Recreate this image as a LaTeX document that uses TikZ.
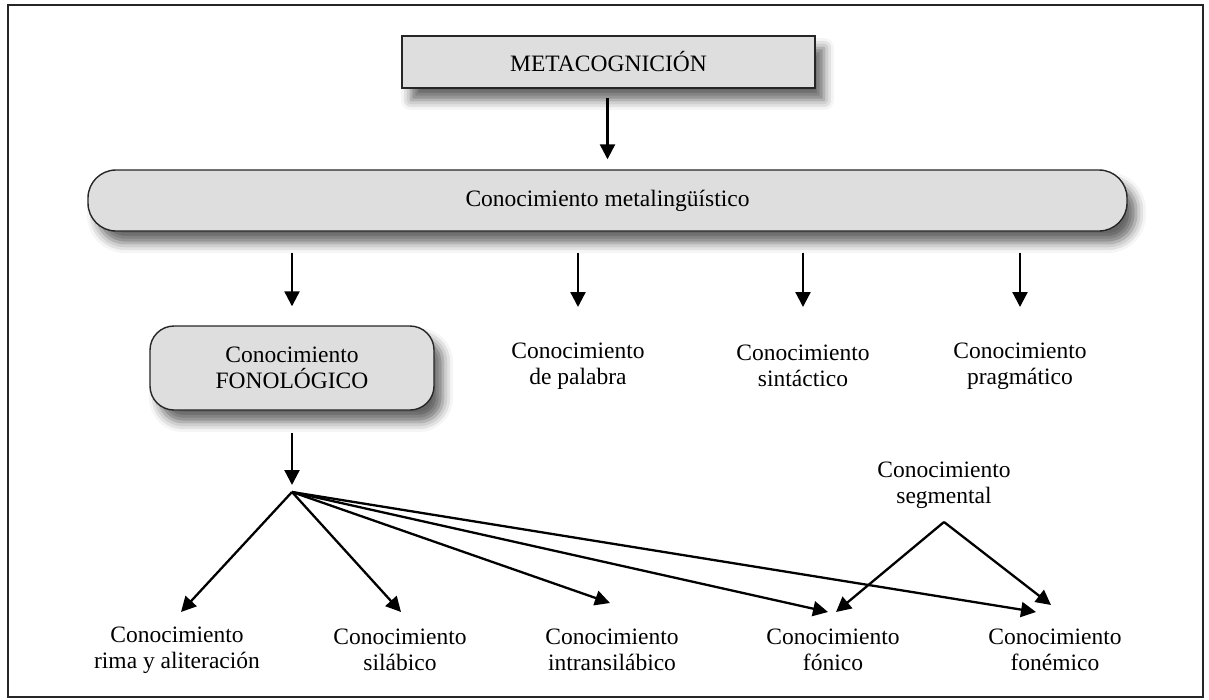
\documentclass[tikz,border=0pt]{standalone}
\usepackage{fontspec}
\setmainfont{Liberation Serif}
\usetikzlibrary{arrows.meta,shadows.blur}
\begin{document}
\begin{tikzpicture}[x=1pt,y=-1pt,
  box/.style={draw=black!85,line width=1.4pt,fill=black!13,
    blur shadow={shadow xshift=9pt,shadow yshift=-12pt,shadow blur radius=10pt,shadow opacity=60},
    font=\fontsize{23.5}{26}\selectfont,inner sep=0pt,align=center},
  lbl/.style={font=\fontsize{23.5}{25.5}\selectfont,align=center,inner sep=0pt},
  arr/.style={line width=2.3pt,-{Triangle[width=15pt,length=15pt]}},
  frame/.style={line width=2.4pt,draw=black!85}]
\useasboundingbox (0,0) rectangle (1209,699);
\draw[frame] (8,5) rectangle (1203,697);

\node[box,minimum width=413pt,minimum height=52pt] (meta) at (608.5,62) {METACOGNICIÓN};
\node[box,rounded corners=28pt,minimum width=1039pt,minimum height=61pt] (metal) at (607.5,200.5) {Conocimiento metalingüístico};
\node[box,rounded corners=24pt,minimum width=284pt,minimum height=84pt] (fono) at (292,368) {Conocimiento\\FONOLÓGICO};

\node[lbl] (pal) at (578,366) {Conocimiento\\de palabra};
\node[lbl] (sin) at (803,366) {Conocimiento\\sintáctico};
\node[lbl] (pra) at (1020,366) {Conocimiento\\pragmático};

\node[lbl] (seg) at (944,485) {Conocimiento\\segmental};

\node[lbl] (rima) at (177,650) {Conocimiento\\rima y aliteración};
\node[lbl] (sil) at (400,650) {Conocimiento\\silábico};
\node[lbl] (intra) at (612,650) {Conocimiento\\intransilábico};
\node[lbl] (fon) at (833,650) {Conocimiento\\fónico};
\node[lbl] (fem) at (1055,650) {Conocimiento\\fonémico};

\coordinate (tP) at (578,307);
\coordinate (tSi) at (803,307);
\coordinate (tPr) at (1020,307);
\coordinate (hub) at (292,492);
\coordinate (apex) at (944,522);
\coordinate (tR) at (181,612);
\coordinate (tS) at (401,612);
\coordinate (tI) at (610,603);
\coordinate (tF1) at (828,612);
\coordinate (tF2) at (836,612);
\coordinate (tM1) at (1036,612);
\coordinate (tM2) at (1051,605);

\draw[arr,shorten <=9pt,shorten >=10pt] (meta.south -| metal.north) -- (metal.north);
\draw[arr,shorten <=21pt,shorten >=19pt] (metal.south -| fono.north) -- (fono.north);
\draw[arr,shorten <=21pt] (metal.south -| tP) -- (tP);
\draw[arr,shorten <=21pt] (metal.south -| tSi) -- (tSi);
\draw[arr,shorten <=21pt] (metal.south -| tPr) -- (tPr);
\draw[arr,shorten <=22pt,shorten >=7pt] (fono.south) -- (hub);

\draw[arr] (hub) -- (tR);
\draw[arr] (hub) -- (tS);
\draw[arr] (hub) -- (tI);
\draw[arr] (hub) -- (tF1);
\draw[arr] (hub) -- (tM1);
\draw[arr] (apex) -- (tF2);
\draw[arr] (apex) -- (tM2);
\end{tikzpicture}
\end{document}
